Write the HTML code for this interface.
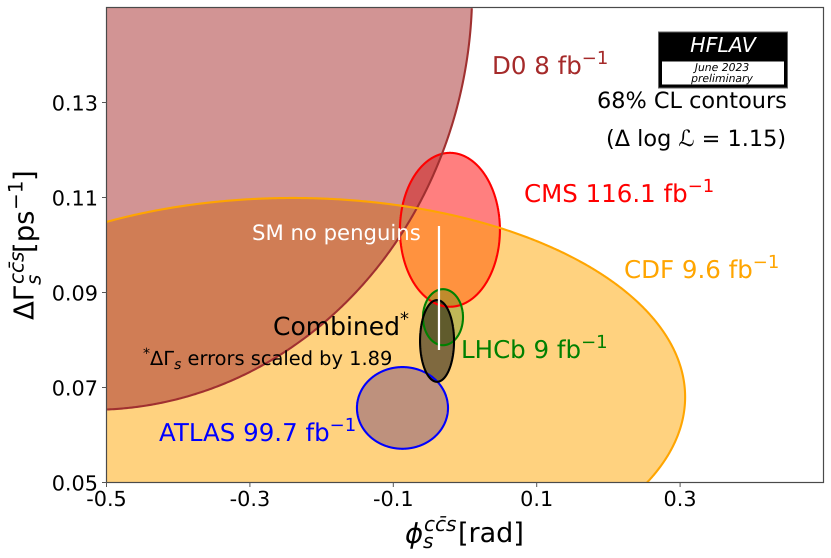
<!DOCTYPE html>
<html lang="en">
<head>
<meta charset="utf-8">
<title>HFLAV contours</title>
<style>
html,body{margin:0;padding:0;background:#fff;width:831px;height:558px;overflow:hidden}
svg{display:block;font-family:"DejaVu Sans","Liberation Sans",sans-serif;text-rendering:geometricPrecision}
.i{font-style:italic}
</style>
</head>
<body>
<svg id="chart" width="831" height="558" viewBox="0 0 831 558" xmlns="http://www.w3.org/2000/svg">
<defs id="chart-defs"><clipPath id="plot-clip"><rect x="106.5" y="7.5" width="717" height="475"/></clipPath></defs>
<g id="contours" clip-path="url(#plot-clip)"></g>
<g id="axes"></g>

<g>
<rect x="658.5" y="32" width="129" height="56" fill="#000" stroke="#666" stroke-width="1"/>
<rect x="662" y="61.5" width="122" height="23" fill="#fff"/>
<text class="i" x="723" y="52" font-size="20.5" fill="#fff" text-anchor="middle">HFLAV</text>
<text class="i" x="722" y="71" font-size="10.8" fill="#000" text-anchor="middle">June 2023</text>
<text class="i" x="722" y="82" font-size="10.8" fill="#000" text-anchor="middle">preliminary</text>
</g>

<text x="492" y="74" font-size="24.5" fill="#a52a2a">D0 8 fb<tspan dy="-10" font-size="18">−1</tspan></text>
<text x="524" y="202" font-size="24.5" fill="#ff0000">CMS 116.1 fb<tspan dy="-10" font-size="18">−1</tspan></text>
<text x="624" y="278" font-size="24.5" fill="#ffa500">CDF 9.6 fb<tspan dy="-10" font-size="18">−1</tspan></text>
<text x="461" y="358" font-size="24.5" fill="#008000">LHCb 9 fb<tspan dy="-10" font-size="18">−1</tspan></text>
<text x="159" y="441" font-size="24.5" fill="#0000ff">ATLAS 99.7 fb<tspan dy="-10" font-size="18">−1</tspan></text>
<text x="252" y="240" font-size="21.2" fill="#fff">SM no penguins</text>
<text x="273" y="335" font-size="25" fill="#000">Combined<tspan dy="-10" font-size="18">*</tspan></text>
<text x="143" y="365" font-size="19.4" fill="#000"><tspan dy="-7" font-size="14">*</tspan><tspan dy="7">ΔΓ</tspan><tspan class="i" dy="4" font-size="14">s</tspan><tspan dy="-4"> errors scaled by 1.89</tspan></text>
<text x="597" y="108" font-size="22.4" fill="#000">68% CL contours</text>
<text x="606" y="146" font-size="22.4" fill="#000">(Δ log <tspan class="i">ℒ</tspan> = 1.15)</text>

<g fill="#000">
<text class="i" x="405" y="543" font-size="27.5">ϕ</text>
<text class="i" x="423" y="548" font-size="20">s</text>
<text class="i" x="424" y="531" font-size="20">cc̄s</text>
<text x="458" y="542" font-size="27">[rad]</text>
</g>
<g fill="#000" transform="translate(33.5,320) rotate(-90)">
<text x="0" y="0" font-size="27.5">ΔΓ</text>
<text class="i" x="35" y="7" font-size="20">s</text>
<text class="i" x="36" y="-10" font-size="20">cc̄s</text>
<text x="67" y="0" font-size="27.5">[ps</text>
<text x="110" y="-11" font-size="20">−1</text>
<text x="139" y="0" font-size="27.5">]</text>
</g>

<script>
// Ellipse contours, all in data units; listed in fill paint order
const experiments = ['CMS', 'CDF', 'D0', 'ATLAS', 'LHCb', 'Combined'];
const phiCentres = [-0.021, -0.24, -0.52, -0.0872, -0.0307, -0.039];
const gammaCentres = [0.1032, 0.068, 0.1537, 0.0657, 0.0848, 0.0798];
const phiErrors = [0.0697, 0.547, 0.53, 0.0635, 0.0279, 0.0237];
const gammaErrors = [0.0162, 0.0419, 0.0884, 0.0086, 0.0059, 0.0086];
const fillColours = ['rgba(255,0,0,0.5)', 'rgba(255,165,0,0.5)', 'rgba(165,42,42,0.5)', 'rgba(125,80,123,0.5)', 'rgba(45,123,0,0.3)', 'rgba(0,0,0,0.5)'];
const edgeColours = ['#ff0000', '#ffa500', '#a03030', '#0000ff', '#008000', '#000000'];
const edgeOrder = ['CMS', 'D0', 'CDF', 'ATLAS', 'LHCb', 'Combined'];
const smPhi = [-0.0363, -0.0363];
const smGamma = [0.0779, 0.104];
const xTicks = [-0.5, -0.3, -0.1, 0.1, 0.3];
const yTicks = [0.05, 0.07, 0.09, 0.11, 0.13];
const xTickLabels = ['-0.5', '-0.3', '-0.1', '0.1', '0.3'];
const yTickLabels = ['0.05', '0.07', '0.09', '0.11', '0.13'];

const NS = 'http://www.w3.org/2000/svg';
const xScale = v => 106.5 + (v + 0.5) * 717;
const yScale = v => 482.5 - (v - 0.05) * 4750;
const contours = document.getElementById('contours');
const axes = document.getElementById('axes');

// Outline of contour i sampled in data space and mapped through the axis functions
function outline(i) {
  const pts = [];
  for (let k = 0; k < 1440; k++) {
    const a = k / 1440 * 2 * Math.PI;
    pts.push([
      xScale(phiCentres[i] + phiErrors[i] * Math.cos(a)),
      yScale(gammaCentres[i] + gammaErrors[i] * Math.sin(a))
    ]);
  }
  return pts;
}
const clampX = v => Math.min(824.5, Math.max(105.5, v));
const clampY = v => Math.min(483.5, Math.max(6.5, v));

// Closed area, held inside the plot box
function fillPath(i) {
  return outline(i).map((p, k) => (k ? 'L' : 'M') + clampX(p[0]).toFixed(2) + ' ' + clampY(p[1]).toFixed(2)).join('') + 'Z';
}
// Outline only where it lies inside the plot box
function edgePath(i) {
  const pts = outline(i);
  const inside = p => p[0] === clampX(p[0]) && p[1] === clampY(p[1]);
  let d = '';
  let pen = false;
  let start = 0;
  for (let k = 0; k < pts.length; k++) {
    if (!inside(pts[k])) { start = k; break; }
  }
  for (let n = 0; n <= pts.length; n++) {
    const p = pts[(start + n) % pts.length];
    if (inside(p)) {
      d += (pen ? 'L' : 'M') + p[0].toFixed(2) + ' ' + p[1].toFixed(2);
      pen = true;
    } else {
      pen = false;
    }
  }
  return d;
}

const iCdf = experiments.indexOf('CDF');
const iD0 = experiments.indexOf('D0');

experiments.forEach((name, i) => {
  const e = document.createElementNS(NS, 'path');
  
  
  e.setAttribute('d', fillPath(i));
  e.setAttribute('fill', fillColours[i]);
  contours.appendChild(e);
  if (name === 'D0') {
    // D0 and CDF overlap reads as one flat colour in the figure
    const clip = document.createElementNS(NS, 'clipPath');
    clip.setAttribute('id', 'cdf-clip');
    const ce = document.createElementNS(NS, 'path');
    ce.setAttribute('d', fillPath(iCdf));
    clip.appendChild(ce);
    document.getElementById('chart-defs').appendChild(clip);
    const o = document.createElementNS(NS, 'path');
    
    
    o.setAttribute('d', fillPath(iD0));
    o.setAttribute('fill', 'rgb(208,125,85)');
    o.setAttribute('clip-path', 'url(#cdf-clip)');
    contours.appendChild(o);
  }
});

edgeOrder.forEach(name => {
  const i = experiments.indexOf(name);
  const e = document.createElementNS(NS, 'path');
  
  
  e.setAttribute('d', edgePath(i));
  e.setAttribute('fill', 'none');
  e.setAttribute('stroke', edgeColours[i]);
  e.setAttribute('stroke-width', '2.1');
  contours.appendChild(e);
});

const sm = document.createElementNS(NS, 'line');


sm.setAttribute('x1', xScale(smPhi[0]));
sm.setAttribute('x2', xScale(smPhi[1]));
sm.setAttribute('y1', yScale(smGamma[0]));
sm.setAttribute('y2', yScale(smGamma[1]));
sm.setAttribute('stroke', '#fff');
sm.setAttribute('stroke-width', '2.2');
contours.appendChild(sm);

const frame = document.createElementNS(NS, 'rect');


frame.setAttribute('x', 106.5);
frame.setAttribute('y', 7.5);
frame.setAttribute('width', 717);
frame.setAttribute('height', 475);
frame.setAttribute('fill', 'none');
frame.setAttribute('stroke', '#4a4a4a');
frame.setAttribute('stroke-width', '1.2');
axes.appendChild(frame);

xTicks.forEach((t, i) => {
  const tick = document.createElementNS(NS, 'line');
  
  
  tick.setAttribute('x1', xScale(t));
  tick.setAttribute('x2', xScale(t));
  tick.setAttribute('y1', 482.5);
  tick.setAttribute('y2', 487);
  tick.setAttribute('stroke', '#555');
  tick.setAttribute('stroke-width', '1');
  axes.appendChild(tick);
  const label = document.createElementNS(NS, 'text');
  
  
  label.setAttribute('x', xScale(t));
  label.setAttribute('y', 506);
  label.setAttribute('font-size', '20.8');
  label.setAttribute('text-anchor', 'middle');
  label.textContent = xTickLabels[i];
  axes.appendChild(label);
});

yTicks.forEach((t, i) => {
  const tick = document.createElementNS(NS, 'line');
  
  
  tick.setAttribute('x1', 102);
  tick.setAttribute('x2', 106.5);
  tick.setAttribute('y1', yScale(t));
  tick.setAttribute('y2', yScale(t));
  tick.setAttribute('stroke', '#555');
  tick.setAttribute('stroke-width', '1');
  axes.appendChild(tick);
  const label = document.createElementNS(NS, 'text');
  
  
  label.setAttribute('x', 98);
  label.setAttribute('y', yScale(t) + 8);
  label.setAttribute('font-size', '20.8');
  label.setAttribute('text-anchor', 'end');
  label.textContent = yTickLabels[i];
  axes.appendChild(label);
});
</script>
</svg>
</body>
</html>
